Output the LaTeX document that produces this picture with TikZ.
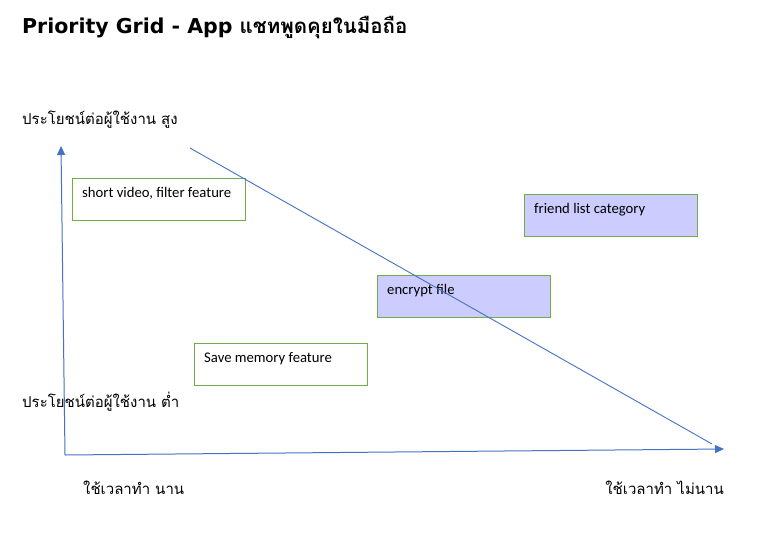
\documentclass[tikz,border=0pt]{standalone}
\usepackage{fontspec}
\setmainfont{Carlito}
\newfontfamily\thai[Script=Thai]{Loma}
\newfontfamily\ttl{DejaVu Sans}
\usetikzlibrary{arrows.meta}
\definecolor{axisblue}{HTML}{4472C4}
\definecolor{boxgreen}{HTML}{70AD47}
\definecolor{boxfill}{HTML}{CCCCFF}
\begin{document}
\begin{tikzpicture}[x=1pt,y=-1pt,
  axis/.style={draw=axisblue,line width=1pt,-{Triangle[length=9pt,width=8pt]}},
  diag/.style={draw=axisblue,line width=0.9pt},
  box/.style={draw=boxgreen,line width=1pt,minimum width=173pt,minimum height=42pt,anchor=north west,inner sep=0pt},
  hot/.style={box,fill=boxfill},
  lbl/.style={font=\fontsize{14.7}{16}\selectfont,anchor=base west,inner sep=0pt},
  thl/.style={font=\thai\fontsize{15}{17}\selectfont,anchor=base west,inner sep=0pt},
  title/.style={font=\bfseries\fontsize{20.5}{24}\selectfont,anchor=base west,inner sep=0pt}]
\useasboundingbox (0,0) rectangle (766,533);
\fill[white] (0,0) rectangle (766,533);
\node[title] (title) at (22,33) {\ttl Priority Grid - App \thai แชทพูดคุยในมือถือ};
\node[thl] (yhi) at (22,124) {ประโยชน์ต่อผู้ใช้งาน สูง};
\node[thl] (ylo) at (22,407) {ประโยชน์ต่อผู้ใช้งาน ต่ำ};
\node[thl] (xlo) at (83,494) {ใช้เวลาทำ นาน};
\node[thl,anchor=base east] (xhi) at (724,494) {ใช้เวลาทำ ไม่นาน};
\coordinate (o) at (65,455);
\coordinate (ytip) at (61,146);
\coordinate (xtip) at (724,449);
\coordinate (d1) at (190,148);
\coordinate (d2) at (712,444);
\draw[axis] (o) -- (ytip);
\draw[axis] (o) -- (xtip);
\node[box] (b1) at (72,178) {};
\node[hot] (b2) at (524,194) {};
\node[hot] (b3) at (377,275) {};
\node[box] (b4) at (194,343) {};
\node[lbl] (t1) at ([xshift=10pt,yshift=-19pt]b1.north west) {short video, filter feature};
\node[lbl] (t2) at ([xshift=10pt,yshift=-19pt]b2.north west) {friend list category};
\node[lbl] (t3) at ([xshift=10pt,yshift=-19pt]b3.north west) {encrypt file};
\node[lbl] (t4) at ([xshift=10pt,yshift=-19pt]b4.north west) {Save memory feature};
\draw[diag] (d1) -- (d2);
\end{tikzpicture}
\end{document}
